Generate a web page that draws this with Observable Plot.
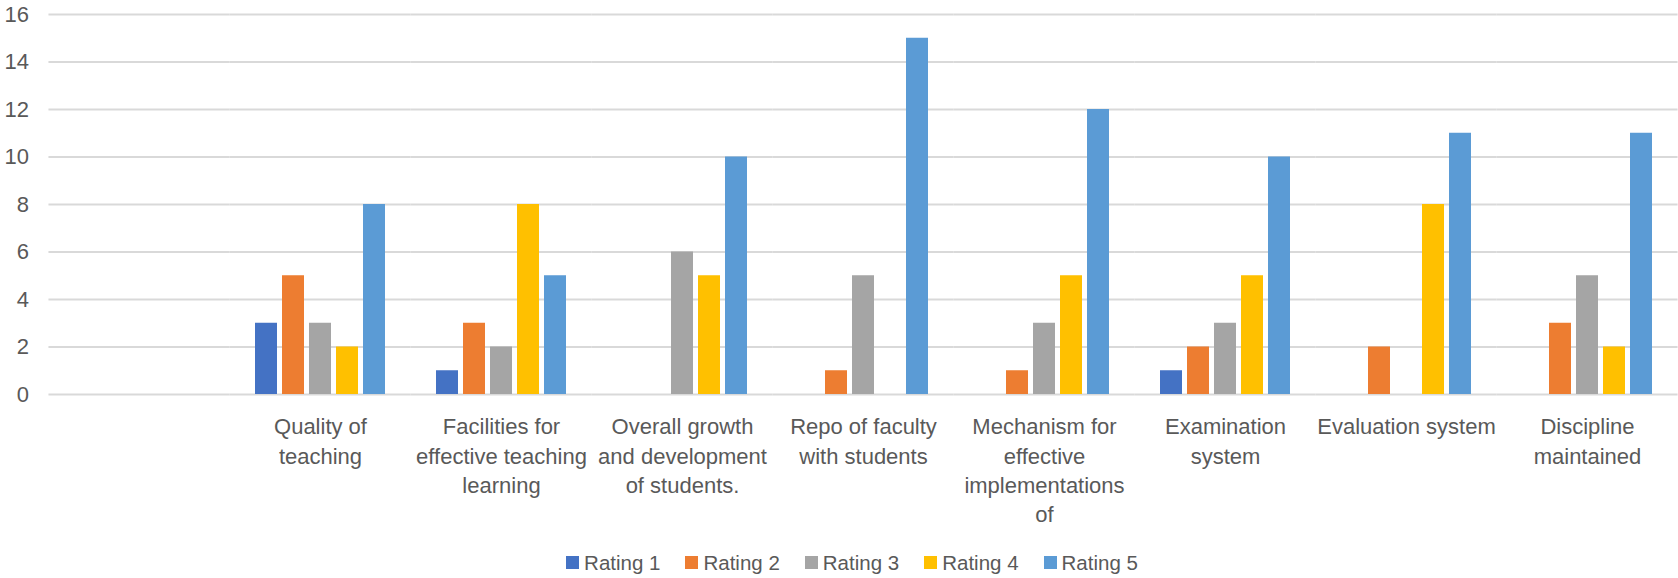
<!DOCTYPE html>
<html>
<head>
<meta charset="utf-8">
<script src="https://cdn.jsdelivr.net/npm/d3@7"></script>
<script src="https://cdn.jsdelivr.net/npm/@observablehq/plot@0.6"></script>
<style>
  html, body { margin: 0; padding: 0; background: #ffffff; }
  #chart { width: 1678px; font-family: "Liberation Sans", Arial, sans-serif; }
  #legend { width: 1678px; box-sizing: border-box; display: flex; justify-content: center; padding-top: 16px; padding-left: 26px; font-family: "Liberation Sans", Arial, sans-serif; font-size: 20.5px; color: #595959; }
  .lg-swatch { margin-right: 25px !important; }
  .lg-swatch:last-child { margin-right: 0 !important; }
  .lg-swatch > svg { margin-right: 5px !important; }
</style>
</head>
<body>
<div id="chart"></div>
<div id="legend"></div>
<script>
const categories = [
  "",
  "Quality of teaching",
  "Facilities for effective teaching learning",
  "Overall growth and development of students.",
  "Repo of faculty with students",
  "Mechanism for effective implementations of",
  "Examination system",
  "Evaluation system",
  "Discipline maintained"
];
const tickLabels = [
  "",
  "Quality of\nteaching",
  "Facilities for\neffective teaching\nlearning",
  "Overall growth\nand development\nof students.",
  "Repo of faculty\nwith students",
  "Mechanism for\neffective\nimplementations\nof",
  "Examination\nsystem",
  "Evaluation system",
  "Discipline\nmaintained"
];
const series = ["Rating 1", "Rating 2", "Rating 3", "Rating 4", "Rating 5"];
const colors = ["#4472C4", "#ED7D31", "#A5A5A5", "#FFC000", "#5B9BD5"];
// values per category (first, empty category has no values)
const rating1 = [0, 3, 1, 0, 0, 0, 1, 0, 0];
const rating2 = [0, 5, 3, 0, 1, 1, 2, 2, 3];
const rating3 = [0, 3, 2, 6, 5, 3, 3, 0, 5];
const rating4 = [0, 2, 8, 5, 0, 5, 5, 8, 2];
const rating5 = [0, 8, 5, 10, 15, 12, 10, 11, 11];
const yTicks = [0, 2, 4, 6, 8, 10, 12, 14, 16];

const seriesValues = [rating1, rating2, rating3, rating4, rating5];
const data = [];
categories.forEach((c, i) => {
  series.forEach((s, j) => {
    data.push({category: c, series: s, value: seriesValues[j][i]});
  });
});
const labelOf = new Map(categories.map((c, i) => [c, tickLabels[i]]));

const W = 1678, mL = 48, mR = 0;
const padIn = 0.26, padOut = 0.13;
const step = (W - mL - mR) / (categories.length - padIn + 2 * padOut);
const halfGap = step * padIn / 2;

const chart = Plot.plot({
  width: W,
  height: 530,
  marginLeft: mL,
  marginRight: mR,
  marginTop: 14,
  marginBottom: 136,
  style: {fontFamily: "Liberation Sans, Arial, sans-serif", fontSize: "22px", color: "#595959", background: "#ffffff"},
  fx: {domain: categories, paddingInner: padIn, paddingOuter: padOut, label: null},
  x: {domain: series, paddingInner: 0.2, paddingOuter: 0, axis: null},
  y: {domain: [0, 16], label: null},
  color: {domain: series, range: colors},
  marks: [
    Plot.ruleY(yTicks, {stroke: "#d9d9d9", strokeWidth: 2, insetLeft: -halfGap, insetRight: -halfGap}),
    Plot.axisY(yTicks, {tickSize: 0, tickPadding: 20 + halfGap, label: null, fontSize: 22}),
    Plot.barY(data, {fx: "category", x: "series", y: "value", fill: "series"}),
    Plot.axisFx({anchor: "bottom", tickSize: 0, tickPadding: 19, label: null, fontSize: 22, lineHeight: 1.33, tickFormat: d => labelOf.get(d)})
  ]
});
document.getElementById("chart").appendChild(chart);

const legend = Plot.legend({
  color: {domain: series, range: colors},
  legend: "swatches",
  swatchSize: 13,
  className: "lg",
  style: {fontFamily: "Liberation Sans, Arial, sans-serif", fontSize: "20.5px", color: "#595959"}
});
document.getElementById("legend").appendChild(legend);
</script>
</body>
</html>
